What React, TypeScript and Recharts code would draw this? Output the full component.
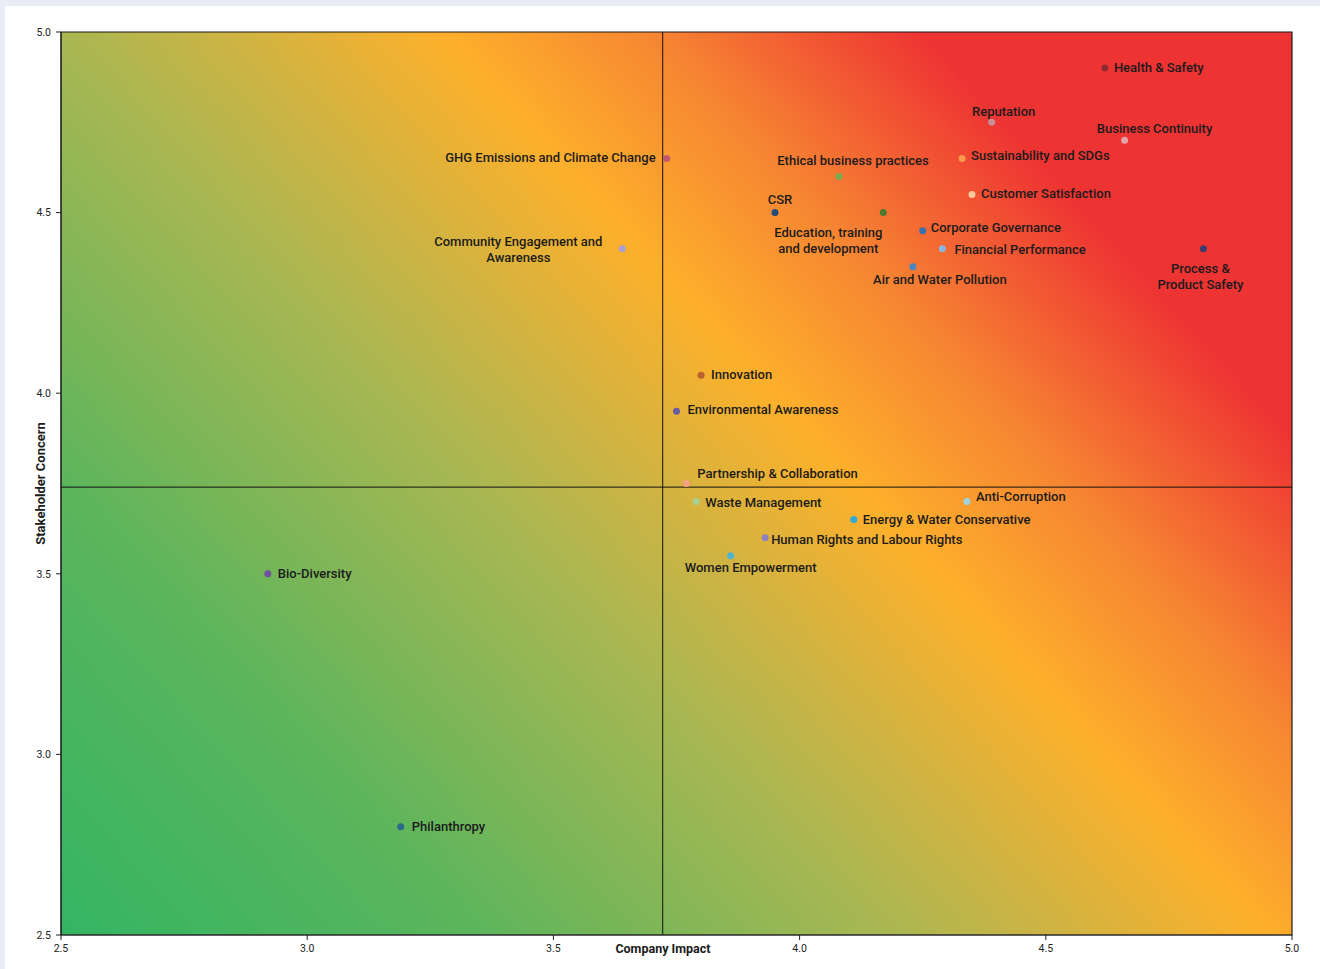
import React from 'react';
import {
  ScatterChart,
  Scatter,
  XAxis,
  YAxis,
  ReferenceArea,
  ReferenceLine,
} from 'recharts';

// -----------------------------------------------------------------------------
// Data
// -----------------------------------------------------------------------------
const TOPICS = [
  'Health & Safety',
  'Reputation',
  'Business Continuity',
  'Sustainability and SDGs',
  'GHG Emissions and Climate Change',
  'Ethical business practices',
  'Customer Satisfaction',
  'CSR',
  'Education, training and development',
  'Corporate Governance',
  'Financial Performance',
  'Community Engagement and Awareness',
  'Process & Product Safety',
  'Air and Water Pollution',
  'Innovation',
  'Environmental Awareness',
  'Partnership & Collaboration',
  'Waste Management',
  'Anti-Corruption',
  'Energy & Water Conservative',
  'Human Rights and Labour Rights',
  'Women Empowerment',
  'Bio-Diversity',
  'Philanthropy',
];

// Company Impact (x)
const IMPACT = [
  4.62, 4.39, 4.66, 4.33, 3.73, 4.08, 4.35, 3.95, 4.17, 4.25, 4.29, 3.64,
  4.82, 4.23, 3.8, 3.75, 3.77, 3.79, 4.34, 4.11, 3.93, 3.86, 2.92, 3.19,
];

// Stakeholder Concern (y)
const CONCERN = [
  4.9, 4.75, 4.7, 4.65, 4.65, 4.6, 4.55, 4.5, 4.5, 4.45, 4.4, 4.4,
  4.4, 4.35, 4.05, 3.95, 3.75, 3.7, 3.7, 3.65, 3.6, 3.55, 3.5, 2.8,
];

const AXIS_TICKS = [2.5, 3.0, 3.5, 4.0, 4.5, 5.0];
const IMPACT_DIVIDER = 3.722;
const CONCERN_DIVIDER = 3.74;

// -----------------------------------------------------------------------------
// Styling
// -----------------------------------------------------------------------------
const DOT_COLORS = [
  '#8e2b2f', '#c98d93', '#e3a3a8', '#f79a4e', '#c2566c', '#7aa84c',
  '#fdc99c', '#1f4d7a', '#4b7a30', '#3a6fb0', '#8cb5e2', '#aaa1d2',
  '#3d3d6b', '#4a86c1', '#b9622b', '#6b5ba3', '#f5a283', '#a9d092',
  '#9bd3e3', '#2fa9d8', '#9082c2', '#52b2d2', '#7152a2', '#2b6a8b',
];

// label placement relative to the dot: lines, dx, dy (of first line), anchor
type Placement = { lines: string[]; dx: number; dy: number; anchor: 'start' | 'middle' | 'end' };
const PLACEMENT: Record<string, Placement> = {
  'Health & Safety': { lines: ['Health & Safety'], dx: 9, dy: -1, anchor: 'start' },
  Reputation: { lines: ['Reputation'], dx: 12, dy: -11, anchor: 'middle' },
  'Business Continuity': { lines: ['Business Continuity'], dx: 30, dy: -12, anchor: 'middle' },
  'Sustainability and SDGs': { lines: ['Sustainability and SDGs'], dx: 9, dy: -3, anchor: 'start' },
  'GHG Emissions and Climate Change': { lines: ['GHG Emissions and Climate Change'], dx: -11, dy: -1, anchor: 'end' },
  'Ethical business practices': { lines: ['Ethical business practices'], dx: 14, dy: -16, anchor: 'middle' },
  'Customer Satisfaction': { lines: ['Customer Satisfaction'], dx: 9, dy: -1, anchor: 'start' },
  CSR: { lines: ['CSR'], dx: 5, dy: -13, anchor: 'middle' },
  'Education, training and development': { lines: ['Education, training', 'and development'], dx: -55, dy: 20, anchor: 'middle' },
  'Corporate Governance': { lines: ['Corporate Governance'], dx: 8, dy: -3, anchor: 'start' },
  'Financial Performance': { lines: ['Financial Performance'], dx: 12, dy: 1, anchor: 'start' },
  'Community Engagement and Awareness': { lines: ['Community Engagement and', 'Awareness'], dx: -104, dy: -7, anchor: 'middle' },
  'Process & Product Safety': { lines: ['Process &', 'Product Safety'], dx: -3, dy: 20, anchor: 'middle' },
  'Air and Water Pollution': { lines: ['Air and Water Pollution'], dx: 27, dy: 13, anchor: 'middle' },
  Innovation: { lines: ['Innovation'], dx: 10, dy: -1, anchor: 'start' },
  'Environmental Awareness': { lines: ['Environmental Awareness'], dx: 11, dy: -2, anchor: 'start' },
  'Partnership & Collaboration': { lines: ['Partnership & Collaboration'], dx: 11, dy: -10, anchor: 'start' },
  'Waste Management': { lines: ['Waste Management'], dx: 9, dy: 1, anchor: 'start' },
  'Anti-Corruption': { lines: ['Anti-Corruption'], dx: 9, dy: -5, anchor: 'start' },
  'Energy & Water Conservative': { lines: ['Energy & Water Conservative'], dx: 9, dy: 0, anchor: 'start' },
  'Human Rights and Labour Rights': { lines: ['Human Rights and Labour Rights'], dx: 6, dy: 2, anchor: 'start' },
  'Women Empowerment': { lines: ['Women Empowerment'], dx: 20, dy: 12, anchor: 'middle' },
  'Bio-Diversity': { lines: ['Bio-Diversity'], dx: 10, dy: 0, anchor: 'start' },
  Philanthropy: { lines: ['Philanthropy'], dx: 11, dy: 0, anchor: 'start' },
};

const FONT = 'Roboto, "DejaVu Sans", sans-serif';
const CHART_W = 1315;
const CHART_H = 963;

const data = TOPICS.map((name, i) => ({
  name,
  impact: IMPACT[i],
  concern: CONCERN[i],
  color: DOT_COLORS[i],
}));

// dot + label
function TopicDot(props: any) {
  const { cx, cy, payload } = props;
  const p = PLACEMENT[payload.name];
  return (
    <g>
      <circle cx={cx} cy={cy} r={3.5} fill={payload.color} />
      {p.lines.map((line, k) => (
        <text
          key={k}
          x={cx + p.dx}
          y={cy + p.dy + k * 16}
          textAnchor={p.anchor}
          dominantBaseline="central"
          fontFamily={FONT}
          fontWeight={500}
          fontSize={13}
          fill="#1b1b1b"
        >
          {line}
        </text>
      ))}
    </g>
  );
}

export default function App() {
  return (
    <div
      style={{
        position: 'absolute',
        left: 0,
        top: 0,
        width: 1320,
        height: 969,
        background: '#e9ecf5',
      }}
    >
      <div
        style={{
          position: 'absolute',
          left: 5,
          top: 6,
          width: CHART_W,
          height: CHART_H,
          background: '#ffffff',
        }}
      >
        <ScatterChart
          width={CHART_W}
          height={CHART_H}
          margin={{ top: 26, right: 28, bottom: 0, left: 0 }}
        >
          <defs>
            {/* diagonal green -> amber -> red wash, from bottom-left to top-right */}
            <linearGradient
              id="materialityBg"
              gradientUnits="userSpaceOnUse"
              x1={56}
              y1={929}
              x2={1175}
              y2={-97}
            >
              <stop offset="0%" stopColor="#34b563" />
              <stop offset="20%" stopColor="#5bb55c" />
              <stop offset="40%" stopColor="#a8b752" />
              <stop offset="47%" stopColor="#c8b446" />
              <stop offset="58.5%" stopColor="#fdb02b" />
              <stop offset="69%" stopColor="#f68532" />
              <stop offset="82%" stopColor="#ee3333" />
              <stop offset="100%" stopColor="#ee3333" />
            </linearGradient>
          </defs>

          <XAxis
            type="number"
            dataKey="impact"
            domain={[2.5, 5]}
            ticks={AXIS_TICKS}
            tickFormatter={(v: number) => v.toFixed(1)}
            height={34}
            tickSize={5}
            tickLine={{ stroke: '#222' }}
            axisLine={{ stroke: '#333' }}
            tick={{ fontSize: 10.5, fill: '#222', fontFamily: FONT, dy: 3 }}
            label={(props: any) => {
              const vb = props.viewBox;
              return (
                <text
                  x={vb.x + vb.width * 0.489}
                  y={vb.y + 13}
                  textAnchor="middle"
                  dominantBaseline="central"
                  fontFamily={FONT}
                  fontWeight={700}
                  fontSize={12.5}
                  fill="#1b1b1b"
                >
                  Company Impact
                </text>
              );
            }}
          />
          <YAxis
            type="number"
            dataKey="concern"
            domain={[2.5, 5]}
            ticks={AXIS_TICKS}
            tickFormatter={(v: number) => v.toFixed(1)}
            width={56}
            tickSize={5}
            tickLine={{ stroke: '#222' }}
            axisLine={{ stroke: '#222' }}
            tick={{ fontSize: 10.5, fill: '#222', fontFamily: FONT, dx: -3 }}
            label={(props: any) => {
              const vb = props.viewBox;
              const x = 35;
              const y = vb.y + vb.height / 2;
              return (
                <text
                  x={x}
                  y={y}
                  transform={`rotate(-90 ${x} ${y})`}
                  textAnchor="middle"
                  dominantBaseline="central"
                  fontFamily={FONT}
                  fontWeight={700}
                  fontSize={13}
                  fill="#1b1b1b"
                >
                  Stakeholder Concern
                </text>
              );
            }}
          />

          {/* gradient quadrant background with frame */}
          <ReferenceArea
            x1={2.5}
            x2={5}
            y1={2.5}
            y2={5}
            fill="url(#materialityBg)"
            fillOpacity={1}
            stroke="#1b1b1b"
            strokeWidth={1.2}
          />

          <ReferenceLine x={IMPACT_DIVIDER} stroke="#111" strokeWidth={1} />
          <ReferenceLine y={CONCERN_DIVIDER} stroke="#111" strokeWidth={1} />

          <Scatter
            data={data}
            shape={TopicDot}
            isAnimationActive={false}
          />
        </ScatterChart>
      </div>
    </div>
  );
}
